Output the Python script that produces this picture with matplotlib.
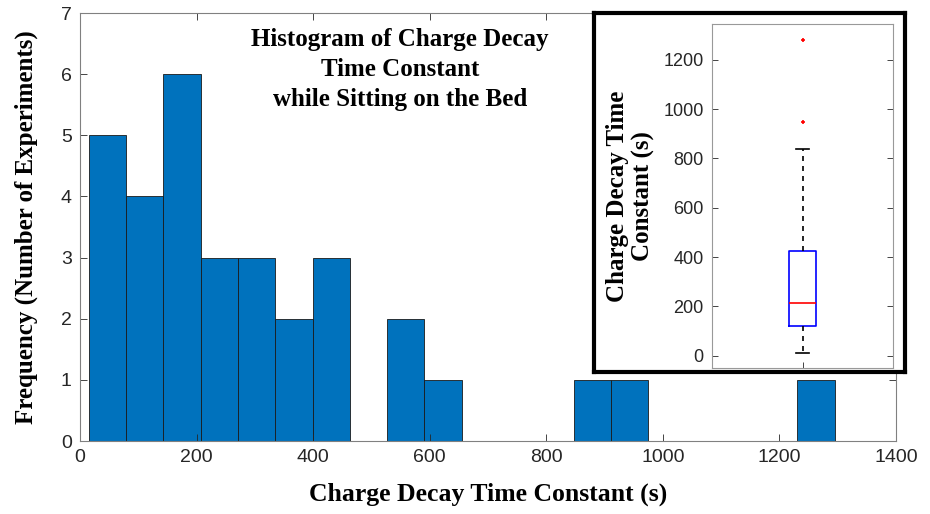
import matplotlib
matplotlib.use('Agg')
import numpy as np
from matplotlib import pyplot as plt

# histogram data (bin edges and counts)
bin_edges = np.linspace(15, 1295, 21)
counts = [5, 4, 6, 3, 3, 2, 3, 0, 2, 1, 0, 0, 0, 1, 1, 0, 0, 0, 0, 1]

# box plot summary (s)
box_q1 = 122
box_med = 213
box_q3 = 423
whisker_lo = 11
whisker_hi = 839
outliers = [946, 1282]

x_ticks = [0, 200, 400, 600, 800, 1000, 1200, 1400]
y_ticks = [0, 1, 2, 3, 4, 5, 6, 7]
inset_ticks = [0, 200, 400, 600, 800, 1000, 1200]

bar_color = '#0072BD'
axis_grey = '#262626'
serif = ['Liberation Serif', 'DejaVu Serif']
sans = ['Liberation Sans', 'DejaVu Sans']

fig = plt.figure(figsize=(9.3, 5.14), dpi=100)

# main histogram
ax = fig.add_axes([80/930, 1 - 441/514, (896-80)/930, (441-13)/514])
ax.bar(bin_edges[:-1], counts, width=np.diff(bin_edges), align='edge',
       color=bar_color, edgecolor='#1a1a1a', linewidth=0.6)
ax.set_xlim(0, 1400)
ax.set_ylim(0, 7)
ax.set_xticks(x_ticks)
ax.set_yticks(y_ticks)
ax.tick_params(direction='in', top=True, right=True, length=5, width=0.6,
               labelsize=14, colors=axis_grey, pad=6)
for lab in ax.get_xticklabels() + ax.get_yticklabels():
    lab.set_family(sans)
for s in ax.spines.values():
    s.set_color('#808080')
    s.set_linewidth(0.8)
ax.set_xlabel('Charge Decay Time Constant (s)', family=serif, fontweight='bold',
              fontsize=18.5, labelpad=12)
ax.set_ylabel('Frequency (Number of Experiments)', family=serif, fontweight='bold',
              fontsize=18, labelpad=16)
ax.text(549, 6.75, 'Histogram of Charge Decay\nTime Constant\nwhile Sitting on the Bed',
        ha='center', va='top', family=serif, fontweight='bold', fontsize=18,
        linespacing=1.38)

# framed inset
frame = fig.add_axes([594/930, 1 - 372/514, (905-594)/930, (372-13)/514])
frame.set_xticks([])
frame.set_yticks([])
frame.set_facecolor('white')
for s in frame.spines.values():
    s.set_color('black')
    s.set_linewidth(3)

ins = fig.add_axes([712/930, 1 - 368/514, (893-712)/930, (368-24)/514])
stats = [dict(med=box_med, q1=box_q1, q3=box_q3, whislo=whisker_lo,
              whishi=whisker_hi, fliers=outliers)]
ins.bxp(stats, positions=[1], widths=0.15,
        boxprops=dict(color='blue', linewidth=1.2),
        medianprops=dict(color='red', linewidth=1.2),
        whiskerprops=dict(color='black', linestyle=(0, (3, 3)), linewidth=1.2),
        capprops=dict(color='black', linewidth=1.2),
        flierprops=dict(marker='+', markeredgecolor='red', markersize=3,
                        markeredgewidth=1.2))
ins.set_xlim(0.5, 1.5)
ins.set_ylim(-50, 1345)
ins.set_yticks(inset_ticks)
ins.set_xticks([1])
ins.set_xticklabels([''])
ins.tick_params(direction='in', top=False, right=True, length=4, width=0.6,
                labelsize=13, colors=axis_grey, pad=6)
for lab in ins.get_yticklabels():
    lab.set_family(sans)
for s in ins.spines.values():
    s.set_color('#999999')
    s.set_linewidth(0.8)
ins.set_ylabel('Charge Decay Time\nConstant (s)', family=serif, fontweight='bold',
               fontsize=18, labelpad=6, linespacing=1.15)

fig.savefig('out.png', dpi=100)
